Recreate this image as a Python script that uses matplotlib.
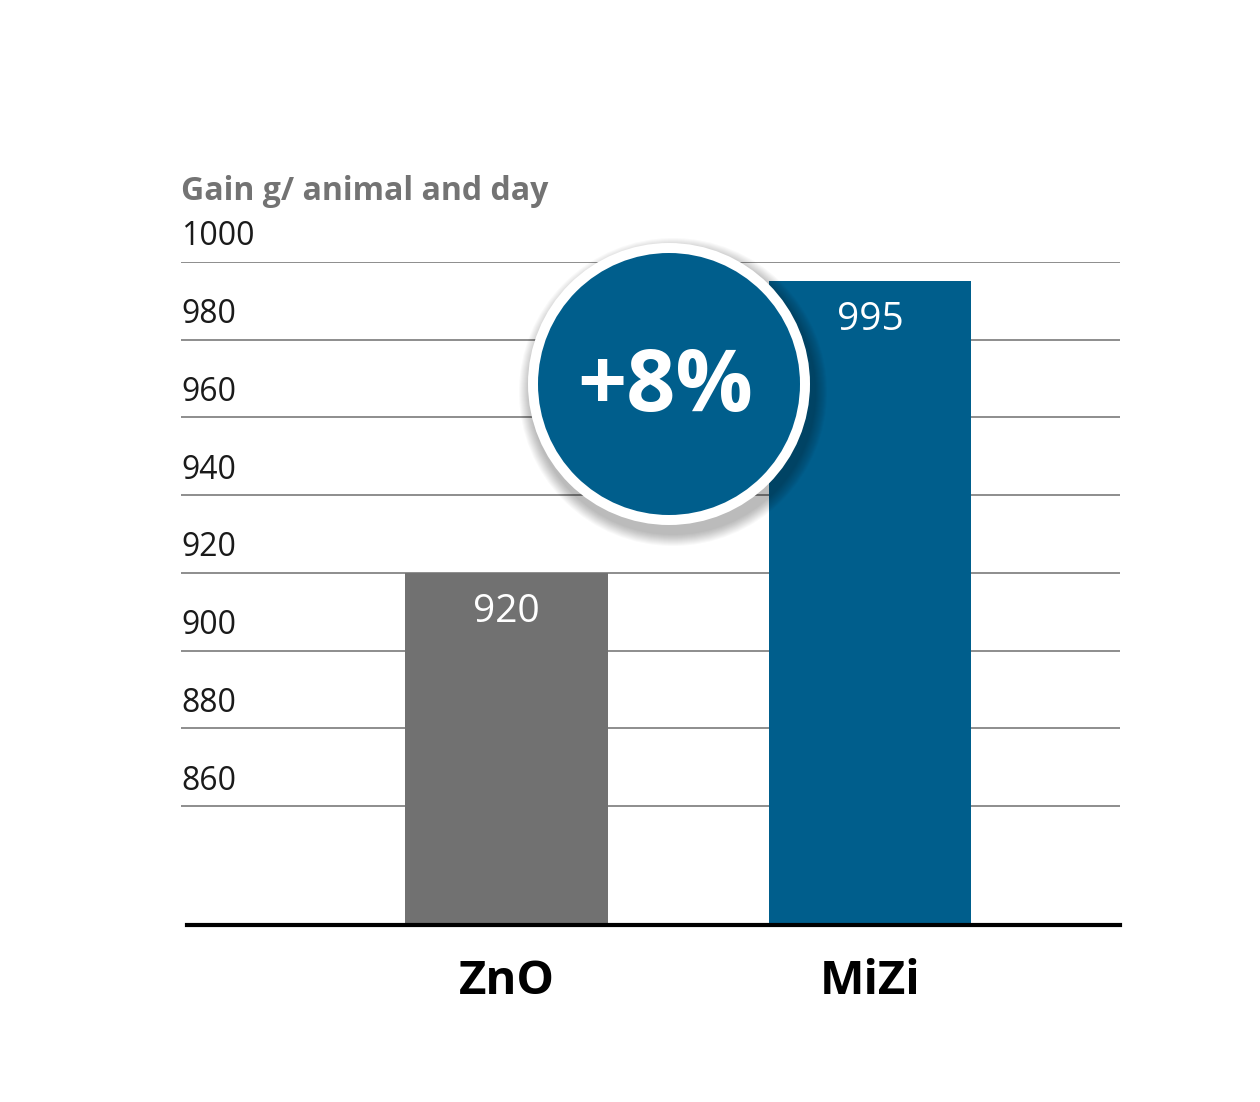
import matplotlib
matplotlib.use("Agg")
import matplotlib.pyplot as plt
from matplotlib.patches import Circle

categories = ["ZnO", "MiZi"]
values = [920, 995]
colors = ["#717171", "#005e8c"]
yticks = [860, 880, 900, 920, 940, 960, 980, 1000]
title = "Gain g/ animal and day"
badge = "+8%"

W, H = 1260, 1102
fig = plt.figure(figsize=(W/100, H/100), dpi=100)
fam = "Open Sans"
ax = fig.add_axes([181/W, 1-925/H, (1120-181)/W, (925-262)/H])
ax.set_xlim(-0.8955, 1.6878)
ax.set_ylim(829.4, 1000)
for t in yticks:
    ax.axhline(t, color="#7a7a7a", lw=1.2, zorder=0)
    ax.text(0, t + 2.2, str(t), transform=ax.get_yaxis_transform(), ha="left", va="bottom",
            fontsize=23, family=fam, color="#1a1a1a")
x = range(len(categories))
ax.bar(x, values, width=0.558, color=colors, zorder=2)
for i, v in enumerate(values):
    ax.text(i, v - 5, str(v), ha="center", va="top", fontsize=28, family=fam, color="white", zorder=3)
    ax.text(i, -0.05, categories[i], transform=ax.get_xaxis_transform(), ha="center", va="top",
            fontsize=34, family=fam, weight="bold", color="black")
ax.axhline(829.4, xmin=6/939, xmax=1, color="black", lw=3, zorder=4, clip_on=False)
for s in ax.spines.values():
    s.set_visible(False)
ax.set_xticks([]); ax.set_yticks([])
ax.text(0, 1000 + 14, title, transform=ax.get_yaxis_transform(), ha="left", va="bottom",
        fontsize=23, family=fam, weight="bold", color="#737373")

ov = fig.add_axes([0, 0, 1, 1])
ov.set_xlim(0, W); ov.set_ylim(H, 0); ov.axis("off")
ov.set_zorder(5)
cx, cy = 669, 384
for k in range(12):
    ov.add_patch(Circle((cx + 4, cy + 8), 142 + 12 - k, color="black", alpha=0.025, lw=0))
ov.add_patch(Circle((cx, cy), 141, color="white", lw=0))
ov.add_patch(Circle((cx, cy), 131, color="#005e8c", lw=0))
ov.text(cx - 4, cy + 4, badge, ha="center", va="center", fontsize=62, family=fam,
        weight="bold", color="white")
fig.savefig("out.png", dpi=100)
